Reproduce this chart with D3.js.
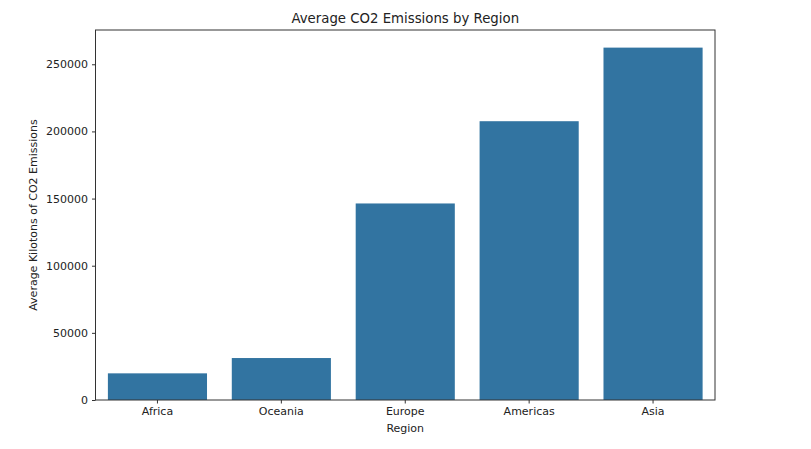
<!DOCTYPE html>
<html>
<head>
<meta charset="utf-8">
<script src="https://cdn.jsdelivr.net/npm/d3@7"></script>
<style>
  body { margin: 0; background: #fff; }
  text { font-family: "DejaVu Sans", sans-serif; fill: #222; }
</style>
</head>
<body>
<svg id="chart"></svg>
<script>
const width = 811
const height = 449

const marginTop = 30
const marginRight = 96
const marginLeft = 95.5
const marginBottom = 49

const regions = ["Africa", "Oceania", "Europe", "Americas", "Asia"]
const emissions = [19850, 31250, 146350, 207600, 262400]
const yTicks = [0, 50000, 100000, 150000, 200000, 250000]

const dataset = regions.map((r, i) => ({ region: r, value: emissions[i] }))

const innerW = width - marginLeft - marginRight
const innerH = height - marginTop - marginBottom

const xScale = d3.scaleBand()
  .domain(regions)
  .range([0, innerW])
  .paddingInner(0.2)
  .paddingOuter(0.1)

const yScale = d3.scaleLinear()
  .domain([0, d3.max(emissions) * 1.05])
  .range([innerH, 0])

const svg = d3.select("#chart")
  .attr("width", width)
  .attr("height", height)

const g = svg.append("g")
  .attr("transform", `translate(${marginLeft}, ${marginTop})`)

g.selectAll("rect")
  .data(dataset)
  .enter()
  .append("rect")
  .attr("fill", "#3274a1")
  .attr("x", d => xScale(d.region))
  .attr("width", xScale.bandwidth())
  .attr("y", d => yScale(d.value))
  .attr("height", d => innerH - yScale(d.value))

// frame
g.append("rect")
  .attr("width", innerW)
  .attr("height", innerH)
  .attr("fill", "none")
  .attr("stroke", "#333")
  .attr("stroke-width", 1)

const yAxis = g.append("g")
  .call(d3.axisLeft(yScale).tickValues(yTicks).tickFormat(d3.format("d")).tickSize(3.5).tickPadding(4))
yAxis.select(".domain").remove()

const xAxis = g.append("g")
  .attr("transform", `translate(0, ${innerH})`)
  .call(d3.axisBottom(xScale).tickSize(3.5).tickPadding(4))
xAxis.select(".domain").remove()

svg.selectAll(".tick text")
  .style("font-family", "DejaVu Sans")
  .style("font-size", "11px")
  .attr("fill", "#222")
svg.selectAll(".tick line").attr("stroke", "#333")

svg.append("text")
  .attr("x", marginLeft + innerW / 2)
  .attr("y", 23)
  .attr("text-anchor", "middle")
  .style("font-size", "13.3px")
  .text("Average CO2 Emissions by Region")

svg.append("text")
  .attr("x", marginLeft + innerW / 2)
  .attr("y", 432)
  .attr("text-anchor", "middle")
  .style("font-size", "11px")
  .text("Region")

svg.append("text")
  .attr("transform", `translate(37, ${marginTop + innerH / 2}) rotate(-90)`)
  .attr("text-anchor", "middle")
  .style("font-size", "11px")
  .text("Average Kilotons of CO2 Emissions")
</script>
</body>
</html>
